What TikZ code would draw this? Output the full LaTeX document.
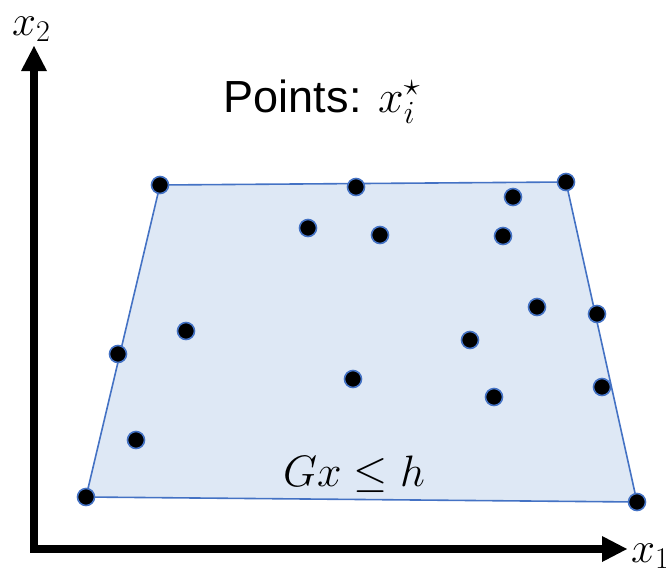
\RequirePackage{fix-cm}
\documentclass[tikz,border=0pt]{standalone}
\usepackage{fontspec}
\setmainfont{Liberation Sans}
\usetikzlibrary{arrows.meta}
\definecolor{regionfill}{RGB}{222,232,245}
\definecolor{regionedge}{RGB}{68,114,196}
\tikzset{
  feasible region/.style={
    fill=regionfill,
    draw=regionedge,
    line width=1.6pt,
    line join=round
  },
  data point/.style={
    circle,
    fill=black,
    draw=regionedge,
    line width=1.6pt,
    minimum size=17pt,
    inner sep=0pt
  },
  axis arrow/.style={
    line width=8pt,
    {Triangle[length=25pt,width=26pt,line width=0pt]}-{Triangle[length=25pt,width=26pt,line width=0pt]}
  },
  big math/.style={font=\fontsize{43}{48}\selectfont}
}

\begin{document}
\begin{tikzpicture}[x=1pt, y=-1pt]
  \useasboundingbox (0,0) rectangle (666,574);

  % Feasible region corners
  \coordinate (tl) at (160,185);
  \coordinate (tr) at (566,182);
  \coordinate (br) at (637,502);
  \coordinate (bl) at (86,497);
  \draw[feasible region] (tl) -- (tr) -- (br) -- (bl) -- cycle;

  % Points
  \foreach \name/\x/\y in {p1/160/185, p2/356/187, p3/566/182, p4/513/197,
      p5/308/228, p6/380/235, p7/503/236, p8/186/331, p9/537/307,
      p10/597/314, p11/118/354, p12/470/340, p13/353/379, p14/602/387,
      p15/494/397, p16/136/440, p17/86/497, p18/637/502} {
    \node[data point] (\name) at (\x,\y) {};
  }

  % Labels
  \node[font=\fontsize{45}{50}\selectfont, anchor=base, inner sep=0pt] (title) at (322,112)
    {Points: \fontsize{46}{52}\selectfont$x_i^\star$};
  \node[font=\fontsize{44}{50}\selectfont, anchor=base, inner sep=0pt] (constraint) at (354,486) {$Gx \leq h$};

  % Axes
  \coordinate (origin) at (34,549);
  \coordinate (x2 end) at (34,46);
  \coordinate (x1 end) at (627,549);
  \draw[axis arrow] (x2 end) -- (origin) -- (x1 end);
  \node[big math, anchor=base west, inner sep=0pt] (x2 label) at (12,35) {$x_2$};
  \node[big math, anchor=base west, inner sep=0pt] (x1 label) at (631,562) {$x_1$};

\end{tikzpicture}
\end{document}
